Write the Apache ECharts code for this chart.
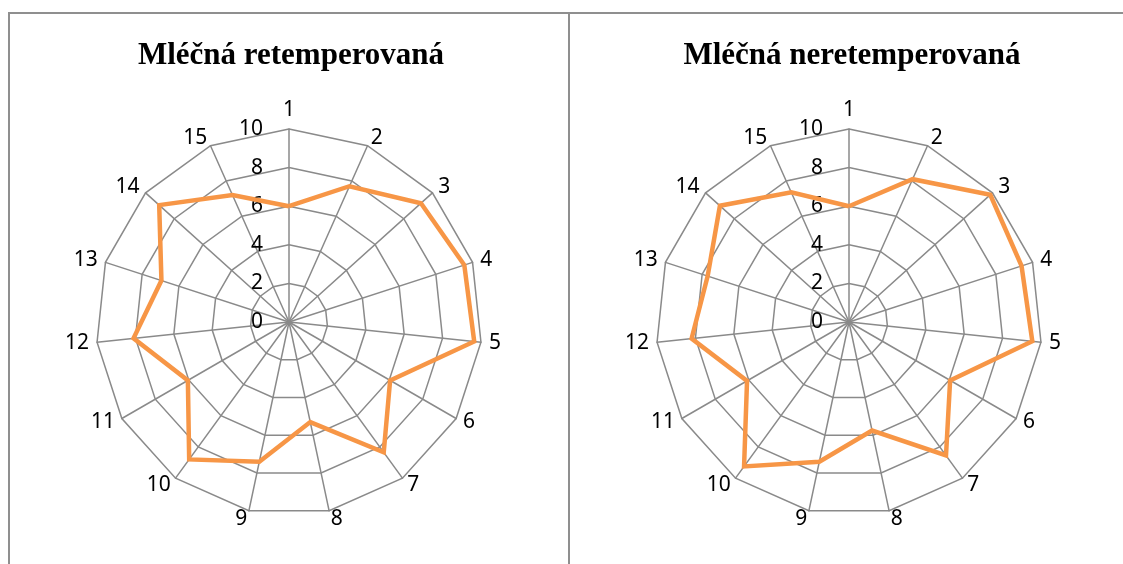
<!DOCTYPE html>
<html>
<head>
<meta charset="utf-8">
<script src="https://cdn.jsdelivr.net/npm/echarts@6/dist/echarts.min.js"></script>
<style>
  html, body { margin: 0; padding: 0; background: #fff; }
  #wrap { position: relative; width: 1123px; height: 564px; overflow: hidden; }
  #chart { position: absolute; left: 0; top: 0; width: 1123px; height: 564px; }
  .frame { position: absolute; background: #8f8f8f; }
</style>
</head>
<body>
<div id="wrap">
  <div id="chart"></div>
  <div class="frame" style="left:8px;top:12px;width:1115px;height:2px;"></div>
  <div class="frame" style="left:8px;top:12px;width:2px;height:552px;"></div>
  <div class="frame" style="left:568px;top:12px;width:2px;height:552px;"></div>
</div>
<script>
// Spoke labels shared by both panels (listed clockwise from the top)
const categories = ['1', '2', '3', '4', '5', '6', '7', '8', '9', '10', '11', '12', '13', '14', '15'];
const titles = ['Mléčná retemperovaná', 'Mléčná neretemperovaná'];
const axisMax = 10;
const axisMin = 0;
const splitCount = 5; // rings at 0, 2, 4, 6, 8, 10

// Panel values, one per spoke
const retemperovana = [6, 7.7, 9.2, 9.55, 9.65, 6.05, 8.35, 5.3, 7.4, 8.8, 6.05, 8.1, 6.95, 9.05, 7.2];
const neretemperovana = [6, 8.1, 9.85, 9.4, 9.55, 6.05, 8.55, 5.75, 7.4, 9.25, 6.1, 8.2, 7.7, 9.0, 7.35];

const gridColor = '#8a8a8a';
const lineColor = '#F79646';
const labelFont = '"Noto Sans", "Open Sans", sans-serif';
const titleFont = 'bold 31px "Liberation Serif", "Times New Roman", serif';

// ECharts lays radar spokes out counter-clockwise; keep the first spoke at
// the top and walk the rest backwards so the spokes run clockwise.
function clockwise(arr) {
  return [arr[0]].concat(arr.slice(1).reverse());
}

function indicators() {
  return clockwise(categories).map(function (c, i) {
    const ind = { name: c, min: axisMin, max: axisMax };
    if (i === 0) {
      ind.axisLabel = {
        show: true, color: '#000', fontSize: 21, fontFamily: labelFont,
        margin: 26, padding: [6, 0, 0, 0]
      };
    }
    return ind;
  });
}

function radarAt(cx) {
  return {
    center: [cx, 322],
    radius: 193,
    startAngle: 90,
    shape: 'polygon',
    splitNumber: splitCount,
    indicator: indicators(),
    axisName: { color: '#000', fontSize: 21, fontFamily: labelFont },
    nameGap: 8,
    axisLine: { lineStyle: { color: gridColor, width: 1.5 } },
    splitLine: { lineStyle: { color: gridColor, width: 1.5 } },
    splitArea: { show: false },
    axisTick: { show: false },
    axisLabel: { show: false }
  };
}

const chart = echarts.init(document.getElementById('chart'), null, { renderer: 'canvas' });
chart.setOption({
  animation: false,
  backgroundColor: '#fff',
  graphic: [
    {
      type: 'text', x: 291, y: 56,
      style: { text: titles[0], textAlign: 'center', textVerticalAlign: 'middle', font: titleFont, fill: '#000' }
    },
    {
      type: 'text', x: 852, y: 56,
      style: { text: titles[1], textAlign: 'center', textVerticalAlign: 'middle', font: titleFont, fill: '#000' }
    }
  ],
  radar: [radarAt(289), radarAt(849)],
  series: [
    {
      type: 'radar', radarIndex: 0, symbol: 'none',
      lineStyle: { color: lineColor, width: 4.5, join: 'miter' },
      data: [{ value: clockwise(retemperovana), name: titles[0] }]
    },
    {
      type: 'radar', radarIndex: 1, symbol: 'none',
      lineStyle: { color: lineColor, width: 4.5, join: 'miter' },
      data: [{ value: clockwise(neretemperovana), name: titles[1] }]
    }
  ]
});
</script>
</body>
</html>
